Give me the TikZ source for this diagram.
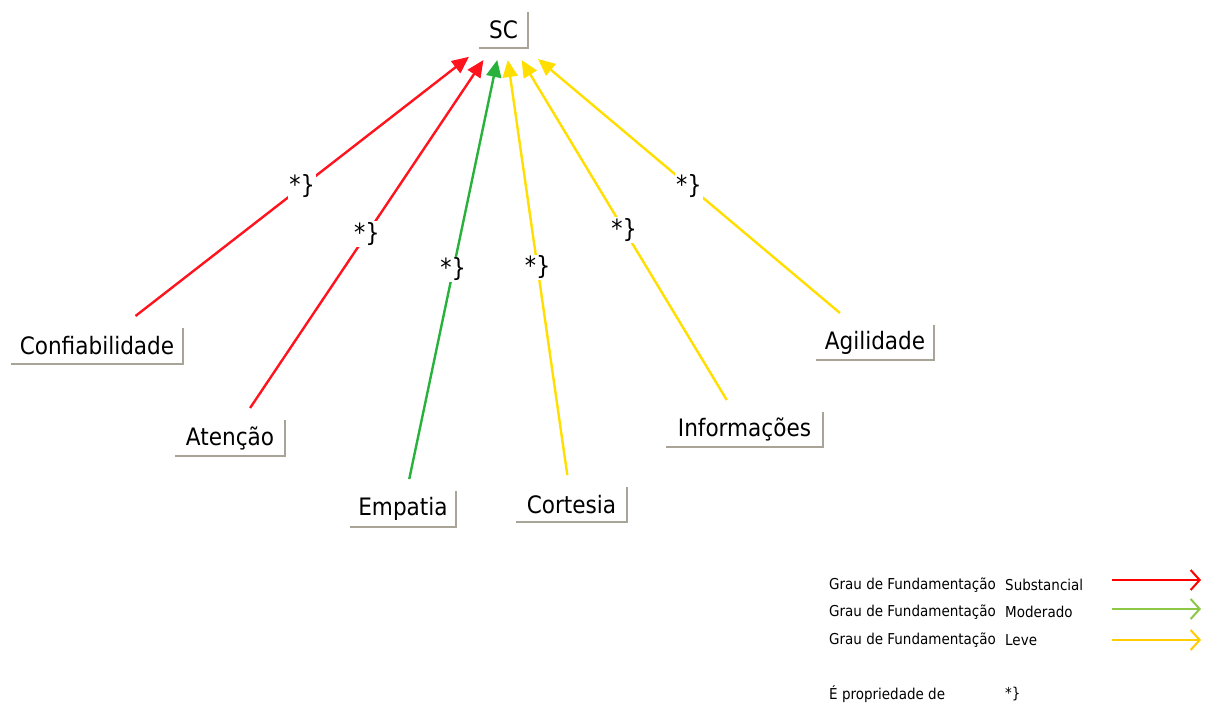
\documentclass[tikz,border=0pt]{standalone}
\usepackage{fontspec}
\setmainfont{DejaVu Sans Condensed}
\usetikzlibrary{arrows.meta}
\definecolor{boxgray}{RGB}{168,164,152}
\definecolor{cred}{RGB}{255,20,30}
\definecolor{cgreen}{RGB}{40,178,60}
\definecolor{cyellow}{RGB}{255,222,0}
\definecolor{lred}{RGB}{255,0,0}
\definecolor{lgreen}{RGB}{140,200,70}
\definecolor{lyellow}{RGB}{255,204,0}
\tikzset{
  concept/.style={inner sep=0pt, outer sep=12pt, font=\fontsize{24}{24}\selectfont},
  rel/.style={line width=2.4pt, -{Triangle[length=17pt,width=15pt]}},
  prop/.style={fill=white, inner sep=1pt, text=black, font=\fontsize{25}{25}\selectfont},
  legtext/.style={anchor=west, inner sep=0pt, font=\fontsize{15}{15}\selectfont},
  legarrow/.style={line width=2pt, -{Straight Barb[length=9pt,width=20pt]}},
  shadowedge/.style={draw=boxgray, line width=2.5pt}
}
\begin{document}
\begin{tikzpicture}[x=1pt,y=-1pt]
\useasboundingbox (0,0) rectangle (1206,702);
% concept nodes (box size via minimum size; outer sep leaves the gap before the connectors)
\node[concept, minimum width=49pt, minimum height=36pt, outer xsep=10pt] (sc) at (503.5,30) {SC};
\node[concept, minimum width=172pt, minimum height=36pt] (conf) at (97,346) {Confiabilidade};
\node[concept, minimum width=110pt, minimum height=36pt] (aten) at (230,438) {Atenção};
\node[concept, minimum width=106pt, minimum height=36pt] (emp) at (403,509) {Empatia};
\node[concept, minimum width=111pt, minimum height=35pt] (cort) at (571.5,504.5) {Cortesia};
\node[concept, minimum width=157pt, minimum height=35pt] (info) at (744.5,429.5) {Informações};
\node[concept, minimum width=118pt, minimum height=35pt] (agil) at (875,342.5) {Agilidade};
% raised-box edges (right and bottom) on the visible box, inside the outer sep
\foreach \n/\ox in {sc/10,conf/12,aten/12,emp/12,cort/12,info/12,agil/12}{
  \draw[shadowedge] ([shift={(-\ox,12)}]\n.north east) -- ([shift={(-\ox,-12)}]\n.south east) -- ([shift={(\ox,-12)}]\n.south west);
}
% relations
\draw[rel, cred] (conf) -- node[prop] (p1) {*\}} (sc);
\draw[rel, cred] (aten) -- node[prop] (p2) {*\}} (sc);
\draw[rel, cgreen] (emp) -- node[prop] (p3) {*\}} (sc);
\draw[rel, cyellow] (cort) -- node[prop] (p4) {*\}} (sc);
\draw[rel, cyellow] (info) -- node[prop] (p5) {*\}} (sc);
\draw[rel, cyellow] (agil) -- node[prop] (p6) {*\}} (sc);
% legend
\node[legtext] (l1a) at (829,585) {Grau de Fundamentação};
\node[legtext] (l1b) at (1005,585) {Substancial};
\node[legtext] (l2a) at (829,612) {Grau de Fundamentação};
\node[legtext] (l2b) at (1005,612) {Moderado};
\node[legtext] (l3a) at (829,640) {Grau de Fundamentação};
\node[legtext] (l3b) at (1005,640) {Leve};
\node[legtext] (l4a) at (829,694) {É propriedade de};
\node[legtext] (l4b) at (1005,694) {*\}};
\coordinate (a1s) at (1112,580); \coordinate (a1e) at (1201,580);
\coordinate (a2s) at (1112,609); \coordinate (a2e) at (1201,609);
\coordinate (a3s) at (1112,640); \coordinate (a3e) at (1201,640);
\draw[legarrow, lred] (a1s) -- (a1e);
\draw[legarrow, lgreen] (a2s) -- (a2e);
\draw[legarrow, lyellow] (a3s) -- (a3e);
\end{tikzpicture}
\end{document}
